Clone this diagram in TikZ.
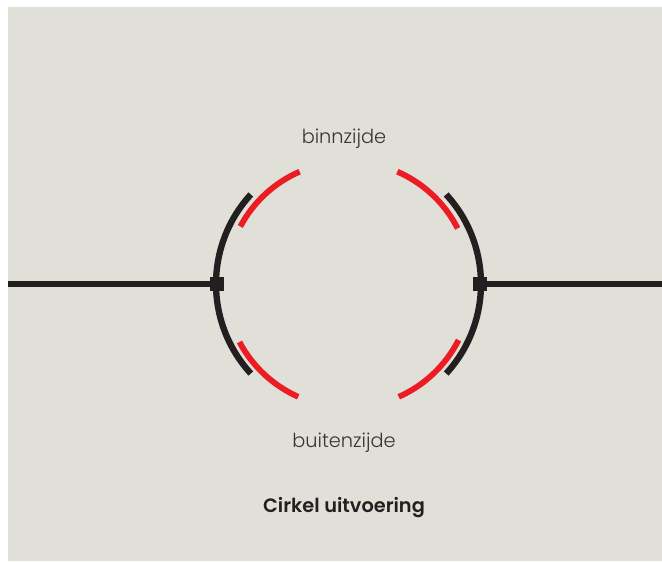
\documentclass[tikz,border=0pt]{standalone}
\usepackage{fontspec}
\setmainfont{Poppins}[UprightFont=* Light,BoldFont=* SemiBold]
\definecolor{wandgrijs}{HTML}{E0E0D9}
\definecolor{profielzwart}{HTML}{231F20}
\definecolor{afdichtrood}{HTML}{ED1C24}
\begin{document}
\begin{tikzpicture}[font=\fontsize{11}{13}\selectfont,
  profiel/.style={draw=profielzwart,line width=3.6pt},
  afdichting/.style={draw=afdichtrood,line width=3.3pt},
  hoekje/.style={fill=profielzwart,minimum size=0.28cm,inner sep=0pt},
  tekst/.style={text=profielzwart!90}]

% achtergrond
\useasboundingbox (-6.97,5.68) rectangle (6.27,-5.54);
\fill[wandgrijs] (-6.81,5.54) rectangle (6.27,-5.54);

% wand
\node[hoekje] (linksblok) at (-2.63,0) {};
\node[hoekje] (rechtsblok) at (2.63,0) {};
\coordinate (linkswand) at (-6.81,0);
\coordinate (rechtswand) at (6.27,0);
\draw[profiel] (linkswand) -- (linksblok);
\draw[profiel] (rechtsblok) -- (rechtswand);

% zwarte bogen
\draw[profiel] (137.5:2.65) arc[start angle=137.5,end angle=222.5,radius=2.65];
\draw[profiel] (42.5:2.65) arc[start angle=42.5,end angle=-42.5,radius=2.65];

% rode bogen
\draw[afdichting] (113.5:2.45) arc[start angle=113.5,end angle=152,radius=2.45];
\draw[afdichting] (66.5:2.45) arc[start angle=66.5,end angle=27,radius=2.45];
\draw[afdichting] (-114:2.47) arc[start angle=-114,end angle=-152,radius=2.47];
\draw[afdichting] (-66:2.47) arc[start angle=-66,end angle=-27,radius=2.47];

% teksten
\node[tekst] (binnen) at (-0.09,2.91) {binnzijde};
\node[tekst] (buiten) at (-0.09,-3.18) {buitenzijde};
\node[text=profielzwart] (titel) at (-0.09,-4.47) {\bfseries Cirkel uitvoering};

\end{tikzpicture}
\end{document}
